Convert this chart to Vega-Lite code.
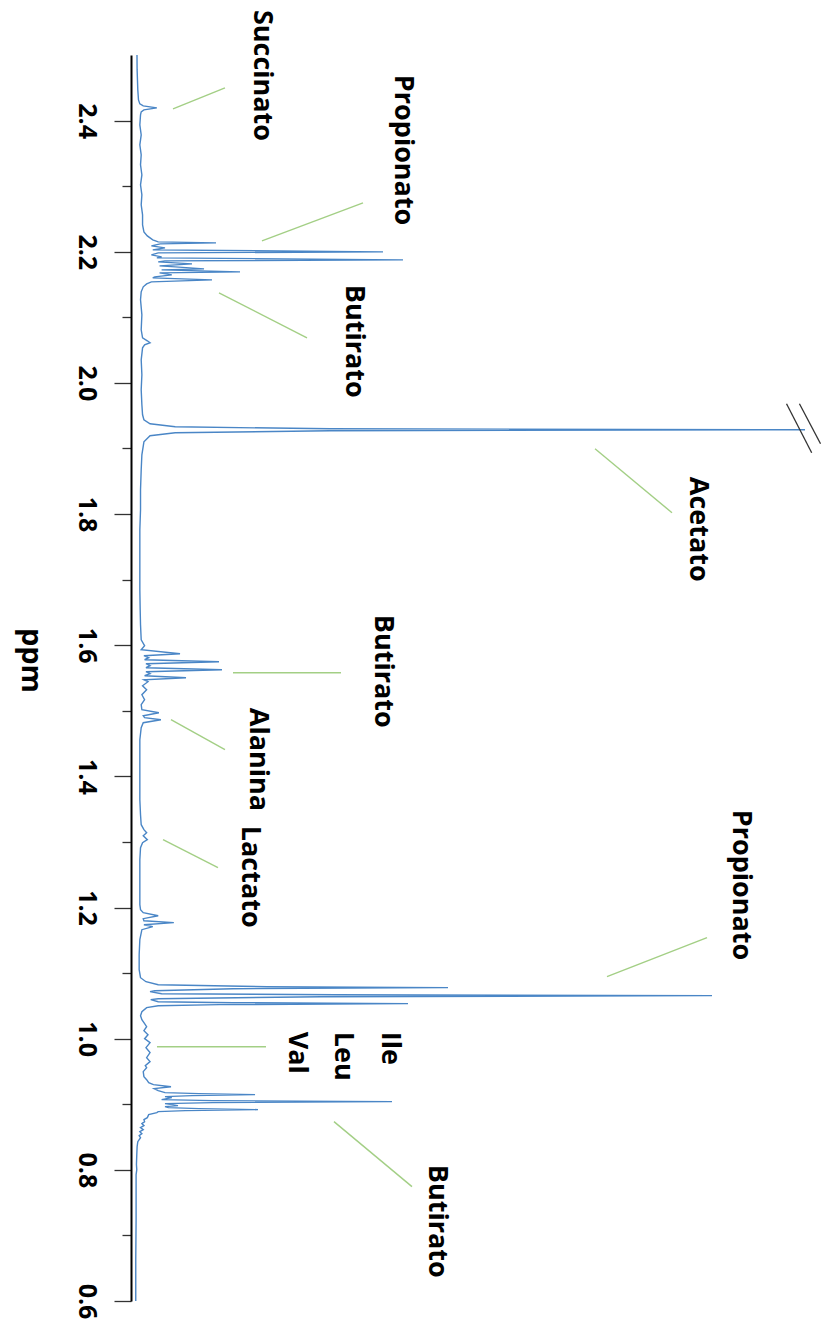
{
  "$schema": "https://vega.github.io/schema/vega-lite/v6.json",
  "width": 680,
  "height": 1246,
  "autosize": {"type": "none"},
  "padding": {"left": 131, "top": 55, "right": 10, "bottom": 29},
  "background": "white",
  "config": {"view": {"stroke": null}},
  "datasets": {
    "spectrum": [
      {"ppm": 2.5, "I": 0.88}, {"ppm": 2.4773, "I": 0.9}, {"ppm": 2.4468, "I": 1.0}, {"ppm": 2.4316, "I": 1.1},
      {"ppm": 2.4255, "I": 1.3}, {"ppm": 2.4224, "I": 1.8}, {"ppm": 2.4194, "I": 3.8}, {"ppm": 2.4163, "I": 1.9},
      {"ppm": 2.4133, "I": 1.5}, {"ppm": 2.4087, "I": 1.4}, {"ppm": 2.3934, "I": 1.3}, {"ppm": 2.3782, "I": 1.5},
      {"ppm": 2.363, "I": 1.3}, {"ppm": 2.3477, "I": 1.5}, {"ppm": 2.3325, "I": 1.4}, {"ppm": 2.3172, "I": 1.6},
      {"ppm": 2.302, "I": 1.4}, {"ppm": 2.2867, "I": 1.6}, {"ppm": 2.2715, "I": 1.5}, {"ppm": 2.2562, "I": 1.7},
      {"ppm": 2.241, "I": 1.7}, {"ppm": 2.2303, "I": 1.9}, {"ppm": 2.2242, "I": 2.4}, {"ppm": 2.2181, "I": 3.2},
      {"ppm": 2.2151, "I": 4.0}, {"ppm": 2.2135, "I": 12.5}, {"ppm": 2.212, "I": 4.3}, {"ppm": 2.209, "I": 3.0},
      {"ppm": 2.2059, "I": 5.0}, {"ppm": 2.2029, "I": 3.2}, {"ppm": 2.1998, "I": 37.06}, {"ppm": 2.1983, "I": 4.0},
      {"ppm": 2.1952, "I": 3.0}, {"ppm": 2.1922, "I": 4.5}, {"ppm": 2.1907, "I": 3.8}, {"ppm": 2.1876, "I": 40.0},
      {"ppm": 2.1861, "I": 5.0}, {"ppm": 2.1846, "I": 4.0}, {"ppm": 2.1815, "I": 8.97}, {"ppm": 2.1785, "I": 4.2},
      {"ppm": 2.1769, "I": 6.5}, {"ppm": 2.1739, "I": 10.74}, {"ppm": 2.1724, "I": 4.5}, {"ppm": 2.1693, "I": 16.03},
      {"ppm": 2.1678, "I": 4.2}, {"ppm": 2.1647, "I": 6.0}, {"ppm": 2.1617, "I": 3.5}, {"ppm": 2.1602, "I": 3.2},
      {"ppm": 2.1571, "I": 11.91}, {"ppm": 2.1541, "I": 3.0}, {"ppm": 2.151, "I": 2.3}, {"ppm": 2.1465, "I": 1.8},
      {"ppm": 2.1389, "I": 1.5}, {"ppm": 2.1267, "I": 1.4}, {"ppm": 2.1038, "I": 1.6}, {"ppm": 2.081, "I": 1.5},
      {"ppm": 2.0688, "I": 1.7}, {"ppm": 2.0642, "I": 2.4}, {"ppm": 2.0612, "I": 2.8}, {"ppm": 2.0581, "I": 2.0},
      {"ppm": 2.0535, "I": 1.7}, {"ppm": 2.0352, "I": 1.5}, {"ppm": 2.0124, "I": 1.6}, {"ppm": 1.9895, "I": 1.5},
      {"ppm": 1.9666, "I": 1.6}, {"ppm": 1.9514, "I": 1.7}, {"ppm": 1.9438, "I": 1.9}, {"ppm": 1.9377, "I": 2.8},
      {"ppm": 1.9331, "I": 6.5}, {"ppm": 1.93, "I": 29.26}, {"ppm": 1.9285, "I": 99.12}, {"ppm": 1.927, "I": 29.26},
      {"ppm": 1.9239, "I": 6.5}, {"ppm": 1.9194, "I": 2.8}, {"ppm": 1.9102, "I": 1.9}, {"ppm": 1.8904, "I": 1.6},
      {"ppm": 1.8675, "I": 1.5}, {"ppm": 1.837, "I": 1.4}, {"ppm": 1.8065, "I": 1.4}, {"ppm": 1.776, "I": 1.3},
      {"ppm": 1.7455, "I": 1.3}, {"ppm": 1.715, "I": 1.3}, {"ppm": 1.6845, "I": 1.3}, {"ppm": 1.654, "I": 1.35},
      {"ppm": 1.6312, "I": 1.4}, {"ppm": 1.6083, "I": 1.5}, {"ppm": 1.5992, "I": 2.0}, {"ppm": 1.5931, "I": 1.5},
      {"ppm": 1.587, "I": 7.21}, {"ppm": 1.584, "I": 1.9}, {"ppm": 1.5809, "I": 2.6}, {"ppm": 1.5779, "I": 2.0},
      {"ppm": 1.5748, "I": 12.94}, {"ppm": 1.5718, "I": 2.2}, {"ppm": 1.5687, "I": 2.8}, {"ppm": 1.5657, "I": 2.2},
      {"ppm": 1.5626, "I": 13.38}, {"ppm": 1.5596, "I": 2.2}, {"ppm": 1.5565, "I": 2.8}, {"ppm": 1.5535, "I": 2.0},
      {"ppm": 1.5504, "I": 8.09}, {"ppm": 1.5474, "I": 1.9}, {"ppm": 1.5443, "I": 2.5}, {"ppm": 1.5382, "I": 1.7},
      {"ppm": 1.5321, "I": 2.3}, {"ppm": 1.5245, "I": 1.6}, {"ppm": 1.5169, "I": 2.0}, {"ppm": 1.5093, "I": 1.5},
      {"ppm": 1.5016, "I": 1.6}, {"ppm": 1.4971, "I": 4.1}, {"ppm": 1.4925, "I": 1.8}, {"ppm": 1.4895, "I": 2.0},
      {"ppm": 1.4864, "I": 4.4}, {"ppm": 1.4818, "I": 1.8}, {"ppm": 1.4742, "I": 1.5}, {"ppm": 1.4559, "I": 1.3},
      {"ppm": 1.4254, "I": 1.3}, {"ppm": 1.3949, "I": 1.3}, {"ppm": 1.3644, "I": 1.3}, {"ppm": 1.3415, "I": 1.4},
      {"ppm": 1.3263, "I": 1.5}, {"ppm": 1.3187, "I": 1.9}, {"ppm": 1.3141, "I": 2.3}, {"ppm": 1.3095, "I": 1.8},
      {"ppm": 1.3034, "I": 2.4}, {"ppm": 1.2989, "I": 1.7}, {"ppm": 1.2912, "I": 1.4}, {"ppm": 1.2729, "I": 1.3},
      {"ppm": 1.2424, "I": 1.3}, {"ppm": 1.2196, "I": 1.3}, {"ppm": 1.2043, "I": 1.3}, {"ppm": 1.1967, "I": 1.4},
      {"ppm": 1.1921, "I": 1.8}, {"ppm": 1.1875, "I": 4.0}, {"ppm": 1.183, "I": 1.8}, {"ppm": 1.1799, "I": 1.9},
      {"ppm": 1.1769, "I": 6.3}, {"ppm": 1.1738, "I": 1.9}, {"ppm": 1.1708, "I": 3.2}, {"ppm": 1.1662, "I": 1.6},
      {"ppm": 1.151, "I": 1.3}, {"ppm": 1.1281, "I": 1.2}, {"ppm": 1.1052, "I": 1.2}, {"ppm": 1.093, "I": 1.4},
      {"ppm": 1.0869, "I": 2.2}, {"ppm": 1.0823, "I": 4.0}, {"ppm": 1.0793, "I": 20.0}, {"ppm": 1.0778, "I": 46.62},
      {"ppm": 1.0762, "I": 15.0}, {"ppm": 1.0732, "I": 3.5}, {"ppm": 1.0717, "I": 2.8}, {"ppm": 1.0686, "I": 4.5},
      {"ppm": 1.0671, "I": 30.0}, {"ppm": 1.0656, "I": 85.44}, {"ppm": 1.064, "I": 28.0}, {"ppm": 1.061, "I": 4.0},
      {"ppm": 1.0595, "I": 2.9}, {"ppm": 1.0564, "I": 4.0}, {"ppm": 1.0549, "I": 15.0}, {"ppm": 1.0534, "I": 40.74},
      {"ppm": 1.0519, "I": 13.0}, {"ppm": 1.0503, "I": 4.0}, {"ppm": 1.0473, "I": 2.3}, {"ppm": 1.0412, "I": 1.6},
      {"ppm": 1.0351, "I": 1.4}, {"ppm": 1.029, "I": 1.6}, {"ppm": 1.0229, "I": 2.0}, {"ppm": 1.0183, "I": 2.3},
      {"ppm": 1.0122, "I": 1.9}, {"ppm": 1.0061, "I": 2.5}, {"ppm": 1.0, "I": 2.0}, {"ppm": 0.9939, "I": 2.8},
      {"ppm": 0.9863, "I": 2.2}, {"ppm": 0.9787, "I": 2.8}, {"ppm": 0.9711, "I": 2.3}, {"ppm": 0.965, "I": 2.8},
      {"ppm": 0.9589, "I": 2.1}, {"ppm": 0.9558, "I": 2.3}, {"ppm": 0.9497, "I": 1.8}, {"ppm": 0.9421, "I": 1.9},
      {"ppm": 0.9375, "I": 2.3}, {"ppm": 0.9329, "I": 2.6}, {"ppm": 0.9299, "I": 3.3}, {"ppm": 0.9268, "I": 5.88},
      {"ppm": 0.9238, "I": 3.4}, {"ppm": 0.9208, "I": 4.0}, {"ppm": 0.9177, "I": 5.0}, {"ppm": 0.9162, "I": 10.0},
      {"ppm": 0.9147, "I": 18.24}, {"ppm": 0.9131, "I": 9.0}, {"ppm": 0.9116, "I": 5.0}, {"ppm": 0.9101, "I": 6.0},
      {"ppm": 0.9071, "I": 4.5}, {"ppm": 0.9055, "I": 12.0}, {"ppm": 0.904, "I": 38.38}, {"ppm": 0.9025, "I": 12.0},
      {"ppm": 0.901, "I": 5.0}, {"ppm": 0.8979, "I": 6.91}, {"ppm": 0.8964, "I": 5.0}, {"ppm": 0.8949, "I": 5.5},
      {"ppm": 0.8933, "I": 10.0}, {"ppm": 0.8918, "I": 18.68}, {"ppm": 0.8903, "I": 8.0}, {"ppm": 0.8887, "I": 4.0},
      {"ppm": 0.8872, "I": 3.8}, {"ppm": 0.8842, "I": 2.6}, {"ppm": 0.8796, "I": 2.4}, {"ppm": 0.8766, "I": 1.9},
      {"ppm": 0.8735, "I": 2.0}, {"ppm": 0.8705, "I": 1.6}, {"ppm": 0.8674, "I": 1.9}, {"ppm": 0.8644, "I": 1.4},
      {"ppm": 0.8613, "I": 1.8}, {"ppm": 0.8582, "I": 1.3}, {"ppm": 0.8552, "I": 1.6}, {"ppm": 0.8521, "I": 1.2},
      {"ppm": 0.8491, "I": 1.4}, {"ppm": 0.843, "I": 1.0}, {"ppm": 0.8354, "I": 0.9}, {"ppm": 0.8232, "I": 0.85},
      {"ppm": 0.808, "I": 0.8}, {"ppm": 0.8003, "I": 0.85}, {"ppm": 0.7927, "I": 0.75}, {"ppm": 0.7698, "I": 0.75},
      {"ppm": 0.7241, "I": 0.75}, {"ppm": 0.6631, "I": 0.7}, {"ppm": 0.6, "I": 0.7}
    ],
    "leaders": [
      {"I": 6.18, "ppm": 2.4178, "I2": 13.82, "ppm2": 2.4499},
      {"I": 19.26, "ppm": 2.2166, "I2": 34.12, "ppm2": 2.2745},
      {"I": 12.94, "ppm": 2.1373, "I2": 25.88, "ppm2": 2.0687},
      {"I": 68.24, "ppm": 1.8995, "I2": 79.56, "ppm2": 1.802},
      {"I": 15.0, "ppm": 1.5581, "I2": 30.88, "ppm2": 1.5581},
      {"I": 5.88, "ppm": 1.4864, "I2": 13.82, "ppm2": 1.4407},
      {"I": 4.71, "ppm": 1.3034, "I2": 12.79, "ppm2": 1.2608},
      {"I": 70.0, "ppm": 1.0945, "I2": 84.71, "ppm2": 1.154},
      {"I": 3.82, "ppm": 0.9878, "I2": 19.85, "ppm2": 0.9878},
      {"I": 29.85, "ppm": 0.8735, "I2": 41.32, "ppm2": 0.7744}
    ],
    "breaks": [
      {"I": 96.4, "ppm": 1.9681, "I2": 100.1, "ppm2": 1.8934},
      {"I": 98.3, "ppm": 1.9681, "I2": 101.4, "ppm2": 1.9071}
    ],
    "labels": [
      {"name": "Succinato", "I": 19.26, "ppm": 2.5688},
      {"name": "Propionato", "I": 40.0, "ppm": 2.4697},
      {"name": "Butirato", "I": 32.8, "ppm": 2.1495},
      {"name": "Acetato", "I": 83.4, "ppm": 1.8568},
      {"name": "Butirato", "I": 37.06, "ppm": 1.6464},
      {"name": "Alanina", "I": 18.68, "ppm": 1.5046},
      {"name": "Lactato", "I": 17.5, "ppm": 1.3247},
      {"name": "Propionato", "I": 89.7, "ppm": 1.3491},
      {"name": "Ile", "I": 38.1, "ppm": 1.0106},
      {"name": "Leu", "I": 31.2, "ppm": 1.0106},
      {"name": "Val", "I": 24.4, "ppm": 1.0106},
      {"name": "Butirato", "I": 45.0, "ppm": 0.8077}
    ]
  },
  "encoding": {
    "x": {"field": "I", "type": "quantitative", "scale": {"domain": [0, 100], "nice": false, "zero": false}, "axis": null},
    "y": {
      "field": "ppm", "type": "quantitative",
      "scale": {"domain": [0.6, 2.5], "nice": false, "zero": false},
      "axis": {
        "title": "ppm",
        "values": [0.6, 0.7, 0.8, 0.9, 1.0, 1.1, 1.2, 1.3, 1.4, 1.5, 1.6, 1.7, 1.8, 1.9, 2.0, 2.1, 2.2, 2.3, 2.4],
        "labelExpr": "round(datum.value*10) % 2 == 0 ? format(datum.value, '.1f') : ''",
        "tickSize": {"condition": {"test": "round(datum.value*10) % 2 == 0", "value": 17}, "value": 9},
        "tickColor": "#333333",
        "tickWidth": 1.3,
        "domainColor": "#000000",
        "domainWidth": 2,
        "grid": false,
        "labelAngle": 90,
        "labelAlign": "center",
        "labelBaseline": "middle",
        "labelPadding": 28,
        "labelFont": "Open Sans",
        "labelFontSize": 25,
        "labelFontWeight": "bold",
        "labelColor": "#000000",
        "labelOverlap": false,
        "labelBound": false,
        "labelFlush": false,
        "titleAngle": 90,
        "titleFont": "Open Sans",
        "titleFontSize": 29,
        "titleFontWeight": "bold",
        "titleColor": "#000000",
        "titleAlign": "center",
        "titleBaseline": "middle",
        "titleX": -101,
        "titleY": 605
      }
    }
  },
  "layer": [
    {
      "data": {"name": "spectrum"},
      "mark": {"type": "line", "color": "#4a86c6", "strokeWidth": 1.4},
      "encoding": {"order": {"field": "ppm", "type": "quantitative"}}
    },
    {
      "data": {"name": "leaders"},
      "mark": {"type": "rule", "color": "#a3cf85", "strokeWidth": 1.4},
      "encoding": {"x2": {"field": "I2"}, "y2": {"field": "ppm2"}}
    },
    {
      "data": {"name": "breaks"},
      "mark": {"type": "rule", "color": "#333333", "strokeWidth": 1.3, "clip": false},
      "encoding": {"x2": {"field": "I2"}, "y2": {"field": "ppm2"}}
    },
    {
      "data": {"name": "labels"},
      "mark": {"type": "text", "angle": 90, "align": "left", "baseline": "middle", "font": "Open Sans", "fontSize": 27, "fontWeight": "bold", "color": "#000000"},
      "encoding": {"text": {"field": "name"}}
    }
  ]
}
